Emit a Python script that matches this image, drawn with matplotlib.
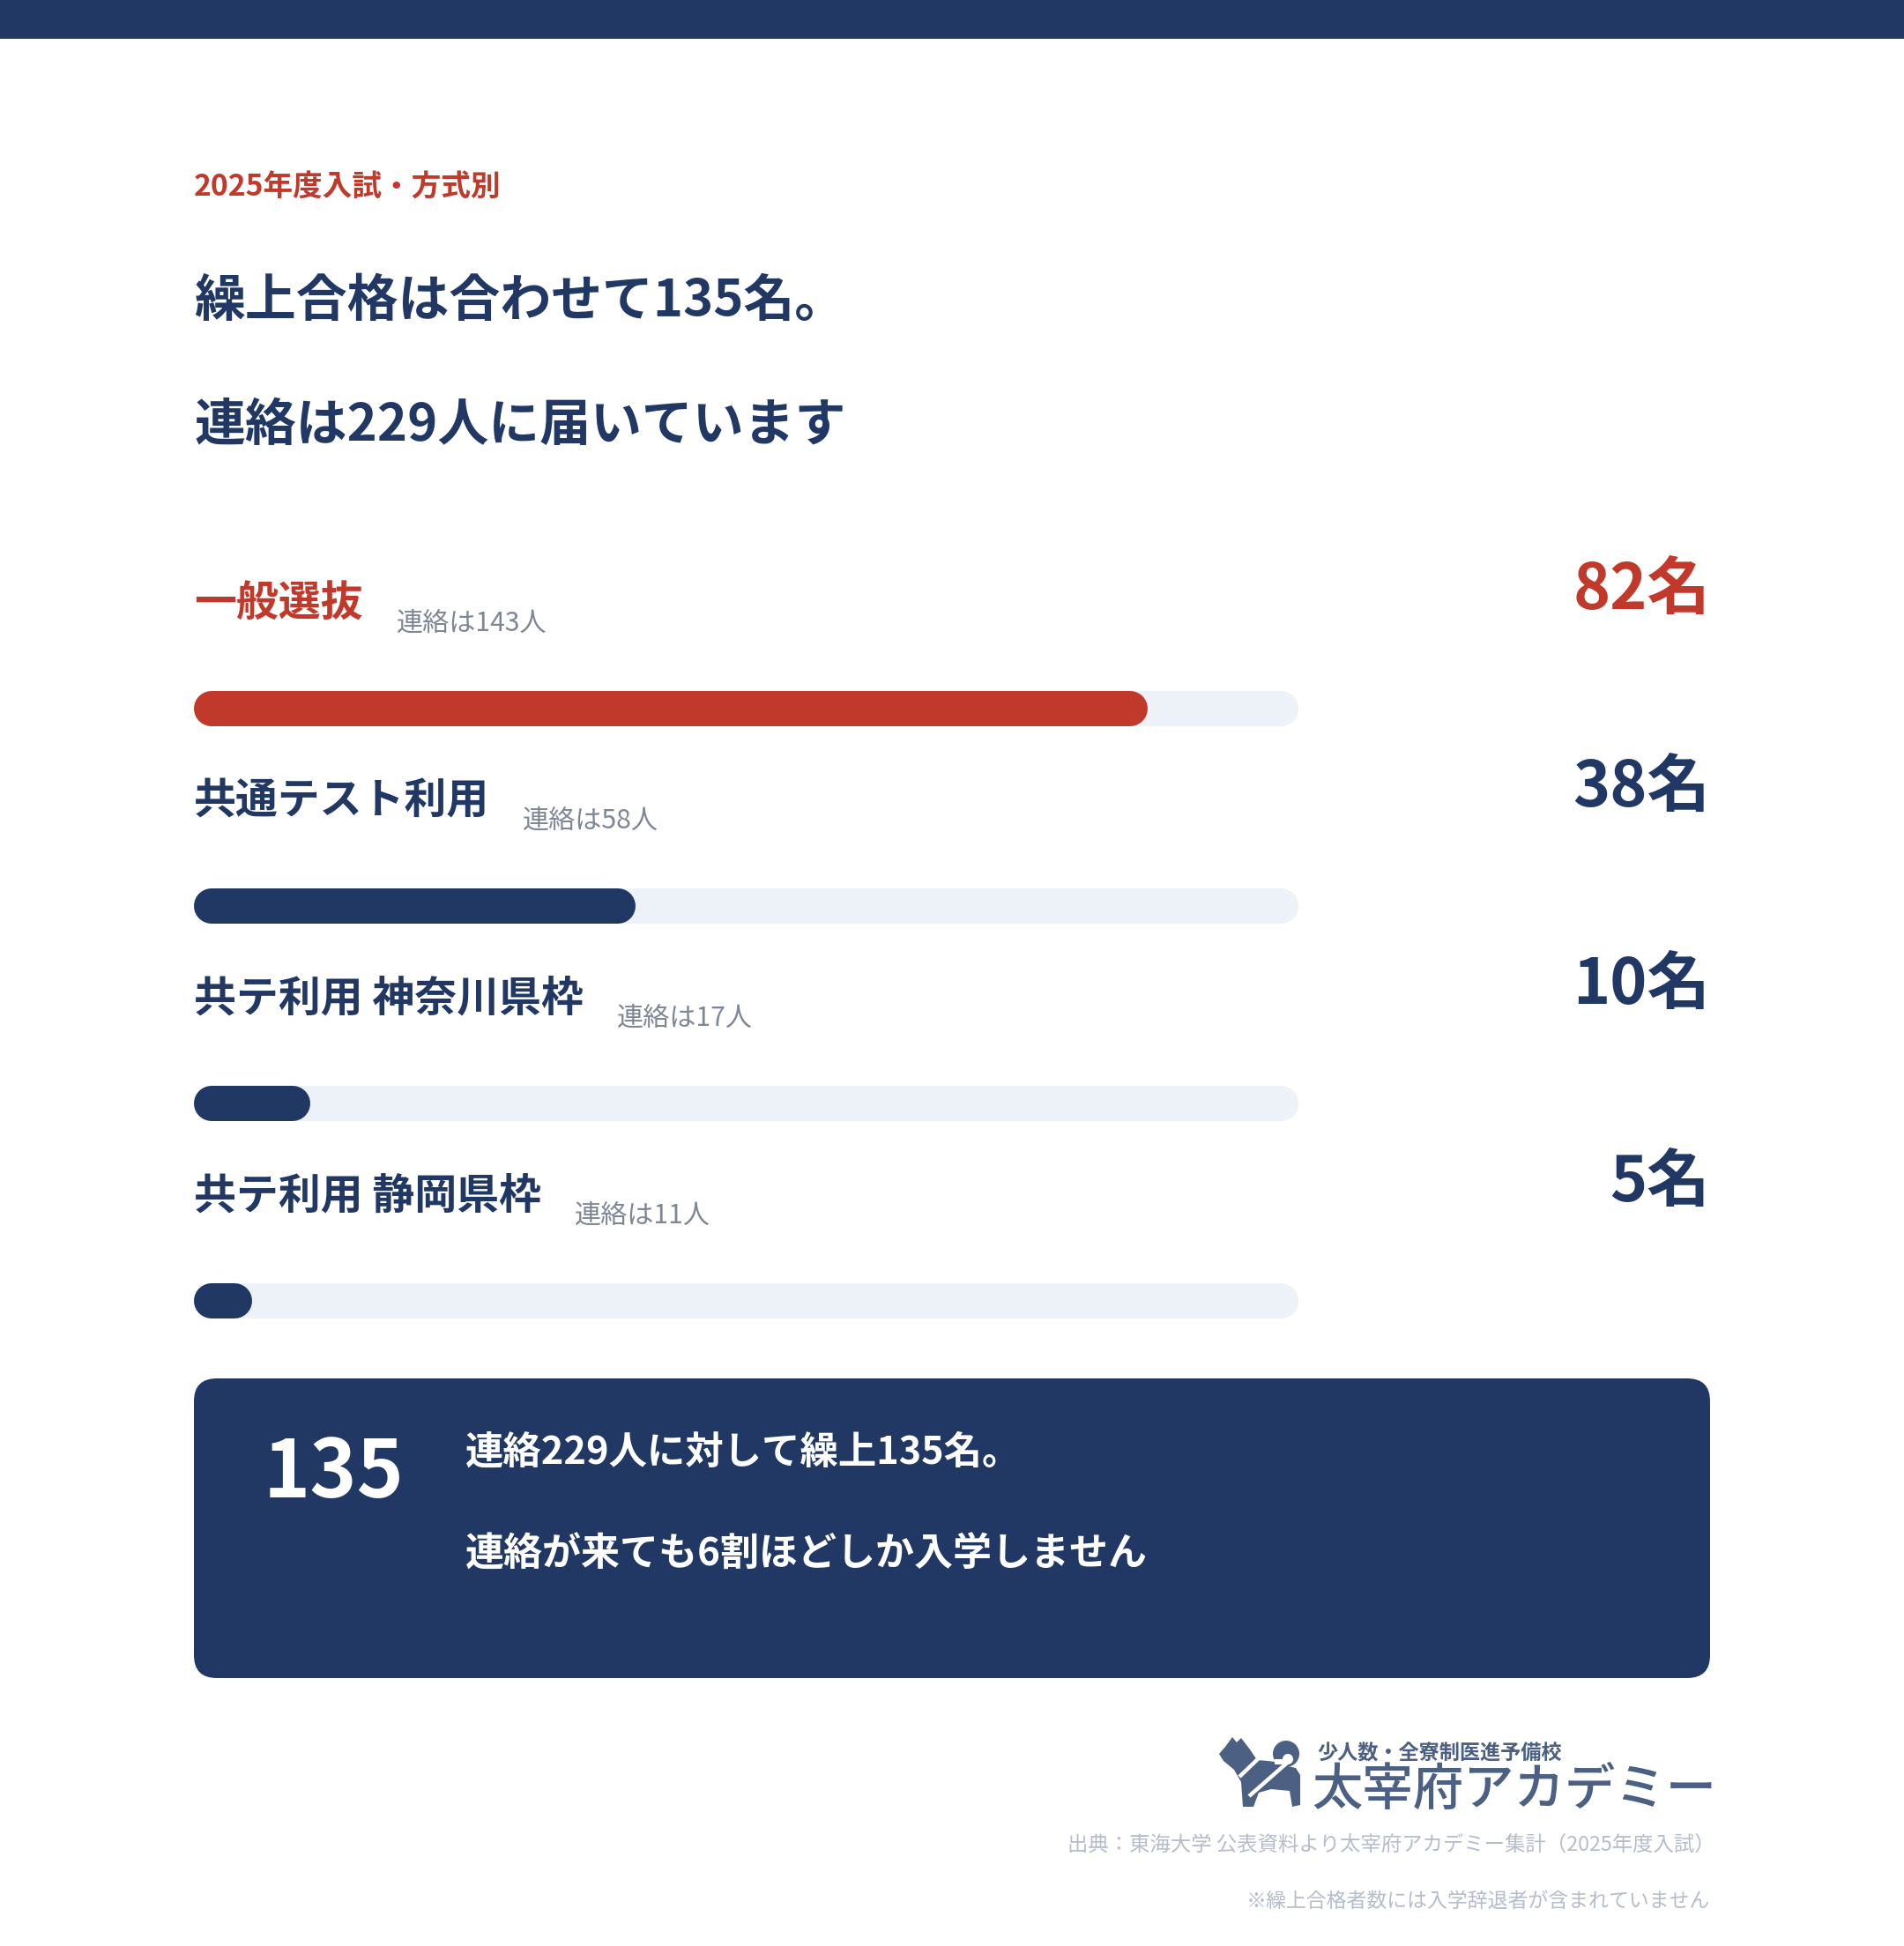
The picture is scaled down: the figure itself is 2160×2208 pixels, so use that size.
import matplotlib
matplotlib.use('Agg')
import matplotlib.pyplot as plt
from matplotlib.patches import FancyBboxPatch, Polygon, Circle, Rectangle

plt.rcParams['font.family'] = ['Noto Sans CJK JP', 'DejaVu Sans']

# ---------------- data ----------------
subtitle = '2025年度入試・方式別'
total_passed = 135
total_contacted = 229
categories = ['一般選抜', '共通テスト利用', '共テ利用 神奈川県枠', '共テ利用 静岡県枠']
passed = [82, 38, 10, 5]
contacted = [143, 58, 17, 11]
highlight = [True, False, False, False]
scale_max = 95
box_line1 = f'連絡{total_contacted}人に対して繰上{total_passed}名。'
box_line2 = '連絡が来ても6割ほどしか入学しません'
logo_small = '少人数・全寮制医進予備校'
logo_big = '太宰府アカデミー'
source_note = '出典：東海大学 公表資料より太宰府アカデミー集計（2025年度入試）'
footnote = '※繰上合格者数には入学辞退者が含まれていません'

# ---------------- style ----------------
NAVY = '#213864'
RED = '#c0392b'
TRACK = '#edf1f8'
SUBGRAY = '#7f8797'
FOOTGRAY = '#b5bccb'
LOGO = '#4b6082'

W, H, DPI = 2160, 2208, 100
fig = plt.figure(figsize=(W / DPI, H / DPI), dpi=DPI)
fig.patch.set_facecolor('white')
ax = fig.add_axes([0, 0, 1, 1])
ax.set_xlim(0, W)
ax.set_ylim(H, 0)
ax.axis('off')

# top band
ax.add_patch(Rectangle((0, 0), W, 44, color=NAVY, lw=0))

LEFT = 220
ax.text(LEFT, 213, subtitle, color=RED, fontsize=24.2, fontweight='bold', va='center', ha='left')
ax.text(LEFT, 342, f'繰上合格は合わせて{total_passed}名。', color=NAVY, fontsize=41.7,
        fontweight='bold', va='center', ha='left')
ax.text(LEFT, 483, f'連絡は{total_contacted}人に届いています', color=NAVY, fontsize=41.7,
        fontweight='bold', va='center', ha='left')

# bars axes
TRACK_L, TRACK_R = 220, 1473
axb = fig.add_axes([TRACK_L / W, 0, (TRACK_R - TRACK_L) / W, 1])
axb.set_xlim(0, scale_max)
axb.set_ylim(H, 0)
axb.axis('off')
axb.patch.set_alpha(0)

bar_px = 40
lw = bar_px * 72 / DPI
r = scale_max * (bar_px / 2) / (TRACK_R - TRACK_L)

renderer = fig.canvas.get_renderer()
row0, step = 685, 224
for i, (cat, p, c, hl) in enumerate(zip(categories, passed, contacted, highlight)):
    col = RED if hl else NAVY
    ly = row0 + i * step
    t = ax.text(LEFT, ly, cat, color=col, fontsize=34.5, fontweight='bold', va='center', ha='left')
    bb = t.get_window_extent(renderer=renderer)
    ax.text(bb.x1 + 38, ly + 22, f'連絡は{c}人', color=SUBGRAY, fontsize=21.7,
            va='center', ha='left')
    ax.text(1940, ly - 15, f'{p}名', color=col, fontsize=51.5, fontweight='bold',
            va='center', ha='right')
    by = ly + 119
    axb.plot([r, scale_max - r], [by, by], color=TRACK, lw=lw, solid_capstyle='round')
    axb.plot([r, p - r], [by, by], color=col, lw=lw, solid_capstyle='round')

# summary box
ax.add_patch(FancyBboxPatch((220, 1564), 1720, 340,
                            boxstyle='round,pad=0,rounding_size=26',
                            facecolor=NAVY, edgecolor='none'))
ax.text(299, 1672, f'{total_passed}', color='white', fontsize=65, fontweight='bold',
        va='center', ha='left')
ax.text(528, 1648, box_line1, color='white', fontsize=31.2, fontweight='bold',
        va='center', ha='left')
ax.text(528, 1764, box_line2, color='white', fontsize=31.7, fontweight='bold',
        va='center', ha='left')

# logo: dog silhouette
dog = [(1383, 1990), (1390, 1982), (1398, 1971), (1403, 1977), (1408, 1972),
       (1418, 1985), (1426, 1997), (1438, 1998), (1446, 1999), (1452, 2002),
       (1470, 2006), (1475, 2014), (1475, 2048), (1466, 2050), (1463, 2032),
       (1442, 2030), (1428, 2034), (1422, 2050), (1410, 2050), (1408, 2022),
       (1400, 2008), (1388, 1998)]
ax.add_patch(Polygon(dog, closed=True, facecolor=LOGO, edgecolor='none'))
ax.add_patch(Circle((1459, 1990), 15, facecolor=LOGO, edgecolor='none'))
ax.add_patch(Circle((1461, 1996), 6, facecolor='white', edgecolor='none'))
ax.add_patch(Rectangle((1446, 1996), 14, 6, facecolor='white', edgecolor='none'))
ax.plot([1406, 1430], [2016, 1993], color='white', lw=3.2, solid_capstyle='butt')
ax.plot([1417, 1466], [2038, 1995], color='white', lw=3.2, solid_capstyle='butt')

ax.text(1494, 1990, logo_small, color=LOGO, fontsize=16.7, fontweight='bold',
        va='center', ha='left')
ax.text(1488, 2032, logo_big, color=LOGO, fontsize=41.3, fontweight='medium',
        va='center', ha='left')

ax.text(1946, 2093, source_note, color=FOOTGRAY, fontsize=16.8, va='center', ha='right')
ax.text(1940, 2157, footnote, color=FOOTGRAY, fontsize=16.5, va='center', ha='right')

fig.savefig('out.png', dpi=DPI, facecolor='white')
